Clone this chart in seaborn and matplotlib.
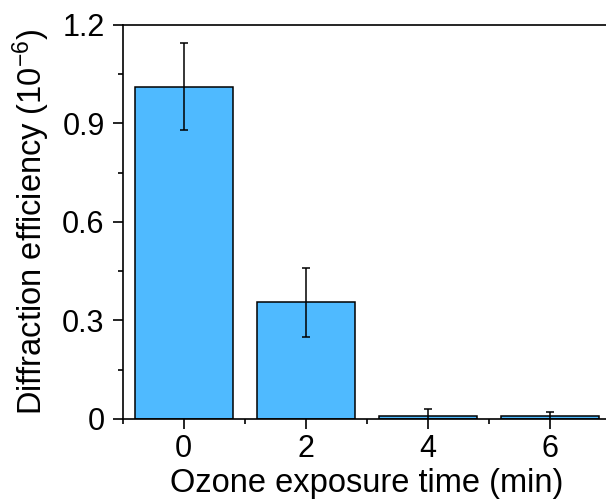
import matplotlib
matplotlib.use("Agg")
import matplotlib.pyplot as plt
import numpy as np
import pandas as pd
import seaborn as sns
from matplotlib.ticker import MultipleLocator

# data
exposure_min = [0, 2, 4, 6]
efficiency = [1.012, 0.355, 0.009, 0.008]
efficiency_err = [0.133, 0.105, 0.021, 0.013]

sns.set_theme(style="ticks")
plt.rcParams['font.family'] = ['Liberation Sans', 'DejaVu Sans']
plt.rcParams['mathtext.fontset'] = 'custom'
plt.rcParams['mathtext.rm'] = 'Liberation Sans'
plt.rcParams['mathtext.it'] = 'Liberation Sans'

df = pd.DataFrame({"time": exposure_min, "eff": efficiency, "err": efficiency_err})

fig = plt.figure(figsize=(6.06, 5.04), dpi=100)
ax = fig.add_axes([0.2025, 0.1687, 0.806, 0.7817])

sns.barplot(
    data=df, x="time", y="eff", ax=ax,
    native_scale=True, width=0.8, errorbar=None,
    color="#4fbaff", saturation=1, edgecolor="black", linewidth=1.1,
)
ax.errorbar(
    df.time, df.eff, yerr=df.err, fmt="none",
    ecolor="black", elinewidth=1.1, capsize=3, capthick=1.1,
)

ax.set_xlim(-1, 7)
ax.set_ylim(0, 1.2)
ax.xaxis.set_major_locator(MultipleLocator(2))
ax.xaxis.set_minor_locator(MultipleLocator(1))
ax.yaxis.set_major_locator(MultipleLocator(0.3))
ax.yaxis.set_minor_locator(MultipleLocator(0.15))
ax.set_yticks([0, 0.3, 0.6, 0.9, 1.2])
ax.set_yticklabels(["0", "0.3", "0.6", "0.9", "1.2"])

for side in ["left", "bottom", "top", "right"]:
    ax.spines[side].set_linewidth(1.2)
    ax.spines[side].set_color("black")

ax.tick_params(axis="both", which="major", direction="out", length=7, width=1.2,
               labelsize=22, color="black", labelcolor="black", pad=4)
ax.tick_params(axis="y", which="major", pad=6)
ax.tick_params(axis="both", which="minor", direction="out", length=3.5, width=1.2,
               color="black")
ax.tick_params(axis="x", which="both", top=False)
ax.tick_params(axis="y", which="both", right=False)

ax.set_xlabel("Ozone exposure time (min)", fontsize=23.5, color="black", labelpad=3)
ax.set_ylabel("Diffraction efficiency (10$^{-6}$)", fontsize=23.5, color="black", labelpad=7)

fig.savefig("out.png", dpi=100)
